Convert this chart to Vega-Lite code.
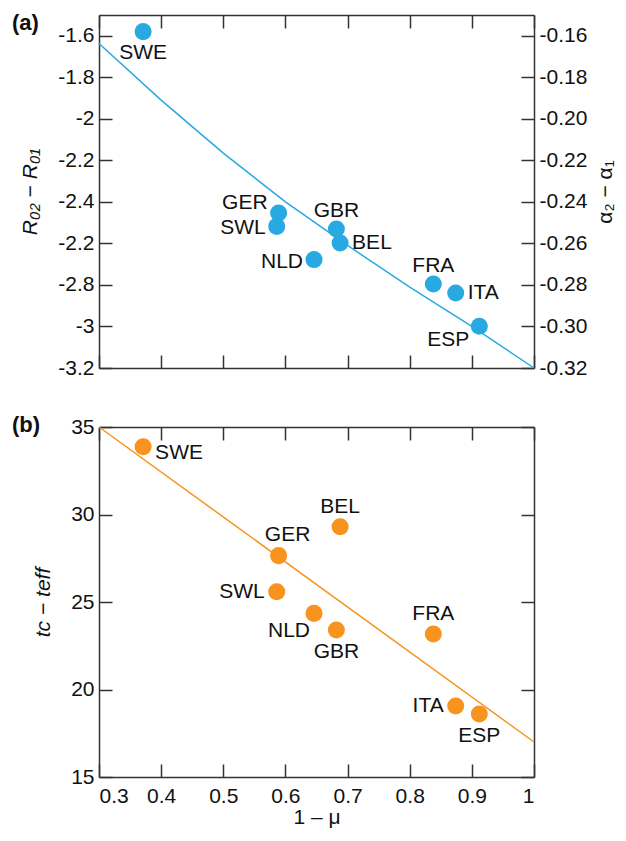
{
  "$schema": "https://vega.github.io/schema/vega-lite/v6.json",
  "background": "white",
  "padding": {"left": 12, "top": 12, "right": 4, "bottom": 4},
  "spacing": 36,
  "config": {
    "view": {"stroke": null},
    "font": "Liberation Sans",
    "axis": {
      "grid": false,
      "domainColor": "#333333",
      "domainWidth": 1.5,
      "tickColor": "#333333",
      "tickWidth": 1.5,
      "tickSize": -13,
      "labelPadding": 18,
      "labelFont": "Liberation Sans",
      "labelFontSize": 21,
      "labelColor": "#111111",
      "titleFont": "Liberation Sans",
      "titleFontSize": 21,
      "titleFontWeight": "normal",
      "titleColor": "#111111"
    },
    "text": {"font": "Liberation Sans", "fontSize": 21, "color": "#111111"}
  },
  "datasets": {
    "a": [
      {"country": "SWE", "mu": 0.371, "dR": -1.58, "dAlpha": -0.158},
      {"country": "GER", "mu": 0.589, "dR": -2.454, "dAlpha": -0.2454},
      {"country": "SWL", "mu": 0.586, "dR": -2.518, "dAlpha": -0.2518},
      {"country": "NLD", "mu": 0.646, "dR": -2.678, "dAlpha": -0.2678},
      {"country": "GBR", "mu": 0.682, "dR": -2.531, "dAlpha": -0.2531},
      {"country": "BEL", "mu": 0.688, "dR": -2.598, "dAlpha": -0.2598},
      {"country": "FRA", "mu": 0.838, "dR": -2.795, "dAlpha": -0.2795},
      {"country": "ITA", "mu": 0.874, "dR": -2.839, "dAlpha": -0.2839},
      {"country": "ESP", "mu": 0.912, "dR": -2.999, "dAlpha": -0.2999}
    ],
    "fitA": [
      {"mu": 0.3, "dR": -1.637},
      {"mu": 0.4, "dR": -1.91},
      {"mu": 0.5, "dR": -2.165},
      {"mu": 0.6, "dR": -2.40},
      {"mu": 0.7, "dR": -2.61},
      {"mu": 0.8, "dR": -2.81},
      {"mu": 0.9, "dR": -3.0},
      {"mu": 1.0, "dR": -3.2}
    ],
    "b": [
      {"country": "SWE", "mu": 0.371, "dt": 33.87},
      {"country": "GER", "mu": 0.589, "dt": 27.65},
      {"country": "SWL", "mu": 0.586, "dt": 25.59},
      {"country": "NLD", "mu": 0.646, "dt": 24.35},
      {"country": "GBR", "mu": 0.682, "dt": 23.4},
      {"country": "BEL", "mu": 0.688, "dt": 29.3},
      {"country": "FRA", "mu": 0.838, "dt": 23.17},
      {"country": "ITA", "mu": 0.874, "dt": 19.06},
      {"country": "ESP", "mu": 0.912, "dt": 18.6}
    ],
    "fitB": [
      {"mu": 0.3, "dt": 35.0},
      {"mu": 1.0, "dt": 17.0}
    ]
  },
  "vconcat": [
    {
      "width": 435,
      "height": 353,
      "title": {"text": "(a)", "orient": "top", "anchor": "start", "frame": "group", "offset": -22, "dx": -87, "dy": 16, "baseline": "alphabetic", "font": "Liberation Sans", "fontSize": 22, "fontWeight": "bold", "color": "#111111"},
      "layer": [
        {
          "encoding": {
            "x": {"field": "mu", "type": "quantitative", "scale": {"domain": [0.3, 1], "nice": false, "zero": false},
                  "axis": {"orient": "bottom", "values": [0.3, 0.4, 0.5, 0.6, 0.7, 0.8, 0.9, 1.0], "labels": false, "title": null}},
            "y": {"field": "dR", "type": "quantitative", "scale": {"domain": [-3.2, -1.5], "nice": false, "zero": false},
                  "axis": {"orient": "left", "values": [-3.2, -3.0, -2.8, -2.6, -2.4, -2.2, -2.0, -1.8, -1.6],
                           "labelExpr": "(datum.value > -2.61 && datum.value < -2.59) ? '-2.2' : replace(format(datum.value, '~g'), '\u2212', '-')",
                           "title": "R₀₂ − R₀₁", "titleFontStyle": "italic", "titlePadding": 17}}
          },
          "layer": [
            {"data": {"name": "fitA"}, "mark": {"type": "line", "color": "#29A9E1", "strokeWidth": 1.5}},
            {"data": {"name": "a"}, "mark": {"type": "circle", "size": 290, "opacity": 1, "color": "#29A9E1"}},
            {"data": {"name": "a"}, "transform": [{"filter": {"field": "country", "oneOf": ["SWE"]}}],
             "mark": {"type": "text", "align": "center", "baseline": "middle", "dy": 21}, "encoding": {"text": {"field": "country"}}},
            {"data": {"name": "a"}, "transform": [{"filter": {"field": "country", "oneOf": ["ESP"]}}],
             "mark": {"type": "text", "align": "center", "baseline": "middle", "dx": -31, "dy": 14}, "encoding": {"text": {"field": "country"}}},
            {"data": {"name": "a"}, "transform": [{"filter": {"field": "country", "oneOf": ["GER"]}}],
             "mark": {"type": "text", "align": "right", "baseline": "middle", "dx": -11, "dy": -10}, "encoding": {"text": {"field": "country"}}},
            {"data": {"name": "a"}, "transform": [{"filter": {"field": "country", "oneOf": ["SWL", "NLD"]}}],
             "mark": {"type": "text", "align": "right", "baseline": "middle", "dx": -11, "dy": 2}, "encoding": {"text": {"field": "country"}}},
            {"data": {"name": "a"}, "transform": [{"filter": {"field": "country", "oneOf": ["GBR", "FRA"]}}],
             "mark": {"type": "text", "align": "center", "baseline": "middle", "dy": -18}, "encoding": {"text": {"field": "country"}}},
            {"data": {"name": "a"}, "transform": [{"filter": {"field": "country", "oneOf": ["BEL", "ITA"]}}],
             "mark": {"type": "text", "align": "left", "baseline": "middle", "dx": 12, "dy": 0}, "encoding": {"text": {"field": "country"}}}
          ]
        },
        {
          "data": {"name": "a"},
          "mark": {"type": "circle", "opacity": 0},
          "encoding": {
            "x": {"field": "mu", "type": "quantitative", "scale": {"domain": [0.3, 1], "nice": false, "zero": false},
                  "axis": {"orient": "top", "values": [0.3, 0.4, 0.5, 0.6, 0.7, 0.8, 0.9, 1.0], "labels": false, "title": null}},
            "y": {"field": "dAlpha", "type": "quantitative", "scale": {"domain": [-0.32, -0.15], "nice": false, "zero": false},
                  "axis": {"orient": "right", "values": [-0.32, -0.30, -0.28, -0.26, -0.24, -0.22, -0.20, -0.18, -0.16],
                           "labelExpr": "replace(format(datum.value, '.2f'), '\u2212', '-')",
                           "title": "α₂ − α₁", "titleAngle": 270, "titleBaseline": "top", "titlePadding": 8}}
          }
        }
      ],
      "resolve": {"scale": {"y": "independent"}, "axis": {"x": "independent", "y": "independent"}}
    },
    {
      "width": 435,
      "height": 350,
      "title": {"text": "(b)", "orient": "top", "anchor": "start", "frame": "group", "offset": -22, "dx": -87, "dy": 16, "baseline": "alphabetic", "font": "Liberation Sans", "fontSize": 22, "fontWeight": "bold", "color": "#111111"},
      "layer": [
        {
          "encoding": {
            "x": {"field": "mu", "type": "quantitative", "scale": {"domain": [0.3, 1], "nice": false, "zero": false},
                  "axis": {"orient": "bottom", "values": [0.3, 0.4, 0.5, 0.6, 0.7, 0.8, 0.9, 1.0], "labelPadding": 21,
                           "labelExpr": "format(datum.value, '~g')", "title": "1 – μ", "titlePadding": 0}},
            "y": {"field": "dt", "type": "quantitative", "scale": {"domain": [15, 35], "nice": false, "zero": false},
                  "axis": {"orient": "left", "values": [15, 20, 25, 30, 35], "title": "tc − teff", "titleFontStyle": "italic", "titlePadding": 17}}
          },
          "layer": [
            {"data": {"name": "fitB"}, "mark": {"type": "line", "color": "#F7931E", "strokeWidth": 1.5}},
            {"data": {"name": "b"}, "mark": {"type": "circle", "size": 290, "opacity": 1, "color": "#F7931E"}},
            {"data": {"name": "b"}, "transform": [{"filter": {"field": "country", "oneOf": ["SWE"]}}],
             "mark": {"type": "text", "align": "left", "baseline": "middle", "dx": 12, "dy": 6}, "encoding": {"text": {"field": "country"}}},
            {"data": {"name": "b"}, "transform": [{"filter": {"field": "country", "oneOf": ["GER"]}}],
             "mark": {"type": "text", "align": "center", "baseline": "middle", "dx": 9, "dy": -21}, "encoding": {"text": {"field": "country"}}},
            {"data": {"name": "b"}, "transform": [{"filter": {"field": "country", "oneOf": ["BEL", "FRA"]}}],
             "mark": {"type": "text", "align": "center", "baseline": "middle", "dy": -20}, "encoding": {"text": {"field": "country"}}},
            {"data": {"name": "b"}, "transform": [{"filter": {"field": "country", "oneOf": ["SWL", "ITA"]}}],
             "mark": {"type": "text", "align": "right", "baseline": "middle", "dx": -12, "dy": 0}, "encoding": {"text": {"field": "country"}}},
            {"data": {"name": "b"}, "transform": [{"filter": {"field": "country", "oneOf": ["NLD"]}}],
             "mark": {"type": "text", "align": "right", "baseline": "middle", "dx": -4, "dy": 18}, "encoding": {"text": {"field": "country"}}},
            {"data": {"name": "b"}, "transform": [{"filter": {"field": "country", "oneOf": ["GBR", "ESP"]}}],
             "mark": {"type": "text", "align": "center", "baseline": "middle", "dy": 22}, "encoding": {"text": {"field": "country"}}}
          ]
        },
        {
          "data": {"name": "b"},
          "mark": {"type": "circle", "opacity": 0},
          "encoding": {
            "x": {"field": "mu", "type": "quantitative", "scale": {"domain": [0.3, 1], "nice": false, "zero": false},
                  "axis": {"orient": "top", "values": [0.3, 0.4, 0.5, 0.6, 0.7, 0.8, 0.9, 1.0], "labels": false, "title": null}},
            "y": {"field": "dt", "type": "quantitative", "scale": {"domain": [15, 35], "nice": false, "zero": false},
                  "axis": {"orient": "right", "values": [15, 20, 25, 30, 35], "labels": false, "title": null}}
          }
        }
      ],
      "resolve": {"axis": {"x": "independent", "y": "independent"}}
    }
  ]
}
